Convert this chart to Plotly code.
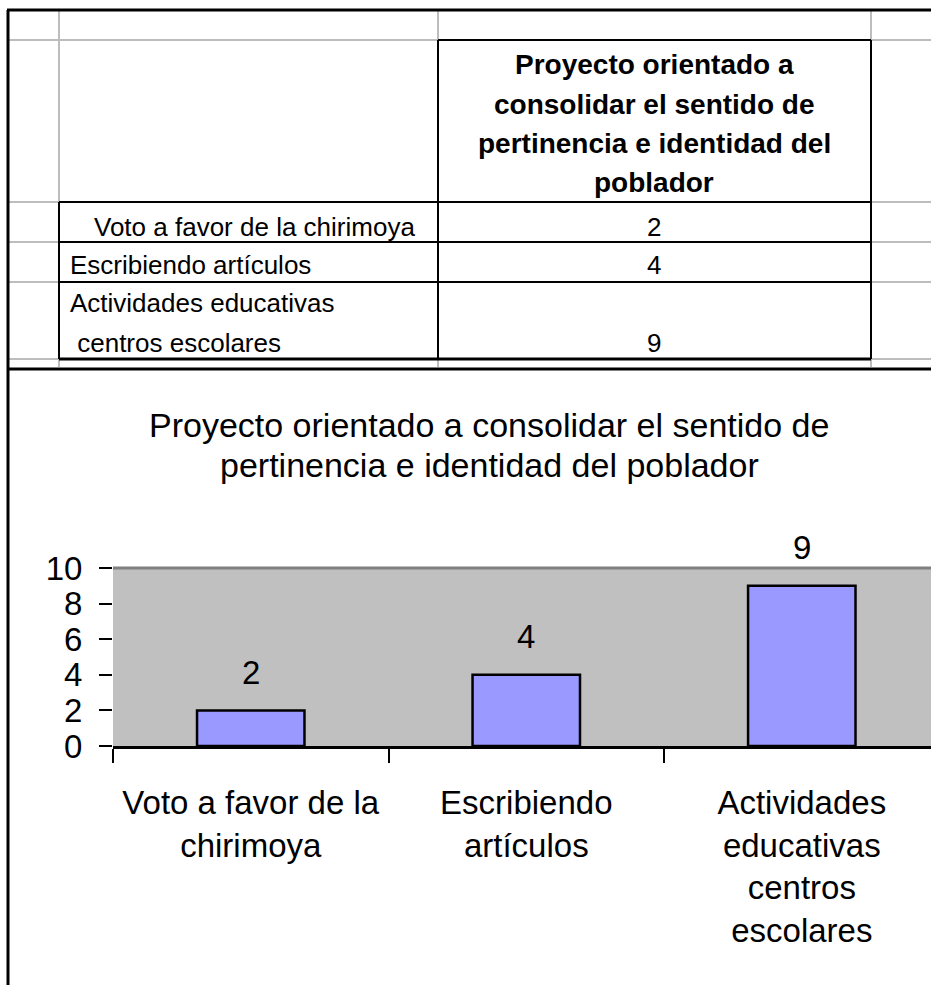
import plotly.graph_objects as go

# data
SERIES_NAME = "Proyecto orientado a consolidar el sentido de pertinencia e identidad del poblador"
CATEGORIES = ["Voto a favor de la chirimoya", "Escribiendo artículos",
              "Actividades educativas centros escolares"]
VALUES = [2, 4, 9]
TICK_TEXT = ["Voto a favor de la<br>chirimoya", "Escribiendo<br>artículos",
             "Actividades<br>educativas<br>centros<br>escolares"]
TABLE_ROWS = [["Voto a favor de la chirimoya"], ["Escribiendo artículos"],
              ["Actividades educativas", " centros escolares"]]
HEADER_LINES = ["Proyecto orientado a", "consolidar el sentido de",
                "pertinencia e identidad del", "poblador"]
TITLE_LINES = ["Proyecto orientado a consolidar el sentido de",
               "pertinencia e identidad del poblador"]

W, H = 931, 985
FONT = "Liberation Sans, Arial, sans-serif"


def px(x):
    return x / W


def py(y):
    return 1 - y / H


def hline(y, x0, x1, color="black", width=2):
    return dict(type="line", xref="paper", yref="paper", x0=px(x0), x1=px(x1),
                y0=py(y), y1=py(y), line=dict(color=color, width=width))


def vline(x, y0, y1, color="black", width=2):
    return dict(type="line", xref="paper", yref="paper", x0=px(x), x1=px(x),
                y0=py(y0), y1=py(y1), line=dict(color=color, width=width))


fig = go.Figure()
fig.add_trace(go.Bar(
    x=CATEGORIES, y=VALUES, name=SERIES_NAME,
    marker=dict(color="#9999FF", line=dict(color="black", width=2.5)),
    hoverinfo="x+y",
))

shapes = []
grid = "#BDBDBD"
# spreadsheet gridlines
for x in [59, 438, 871]:
    shapes.append(vline(x, 10, 367, grid, 2))
for y in [40, 202, 242, 282, 359]:
    shapes.append(hline(y, 8, 931, grid, 2))

# sheet borders
shapes.append(hline(10, 7, 931, width=3))
shapes.append(vline(8, 10, 985, width=3))
shapes.append(hline(369, 7, 931, width=3))

# table borders
shapes.append(hline(40, 438, 871))
shapes.append(vline(438, 40, 359))
shapes.append(vline(871, 40, 359))
shapes.append(vline(59, 202, 359))
for y in [202, 242, 282]:
    shapes.append(hline(y, 59, 871))
shapes.append(hline(359, 59, 871, width=3))

# plot area top border
shapes.append(dict(type="line", xref="x domain", yref="y domain", x0=0, x1=1, y0=1, y1=1,
                   line=dict(color="#808080", width=3)))

annotations = []
for i, line in enumerate(HEADER_LINES):
    annotations.append(dict(x=px(654), y=py(65 + 39.3 * i), xref="paper", yref="paper",
                            text="<b>%s</b>" % line, showarrow=False, xanchor="center",
                            yanchor="middle", font=dict(family=FONT, size=28, color="black")))

row_label_y = [[227], [265], [303, 343]]
row_label_x = [[92], [68], [68, 68]]
for r, lines in enumerate(TABLE_ROWS):
    for j, line in enumerate(lines):
        text = line.replace(" ", "&nbsp;", 1) if line.startswith(" ") else line
        annotations.append(dict(x=px(row_label_x[r][j]), y=py(row_label_y[r][j]),
                                xref="paper", yref="paper", text=text,
                                showarrow=False, xanchor="left", yanchor="middle",
                                font=dict(family=FONT, size=26, color="black")))
    annotations.append(dict(x=px(654), y=py(row_label_y[r][-1]), xref="paper", yref="paper",
                            text=str(VALUES[r]), showarrow=False, xanchor="center",
                            yanchor="middle", font=dict(family=FONT, size=26, color="black")))

for i, line in enumerate(TITLE_LINES):
    annotations.append(dict(x=px(489), y=py(425 + 40 * i), xref="paper", yref="paper",
                            text=line, showarrow=False, xanchor="center", yanchor="middle",
                            font=dict(family=FONT, size=34, color="black")))

# data labels
for c, v in zip(CATEGORIES, VALUES):
    annotations.append(dict(x=c, y=v, xref="x", yref="y", text=str(v), showarrow=False,
                            yshift=38, yanchor="middle",
                            font=dict(family=FONT, size=33, color="black")))

fig.update_layout(
    width=W, height=H,
    margin=dict(l=0, r=0, t=0, b=0, pad=0),
    paper_bgcolor="white",
    plot_bgcolor="#C0C0C0",
    showlegend=False,
    bargap=0.61,
    font=dict(family=FONT, size=33, color="black"),
    shapes=shapes,
    annotations=annotations,
    xaxis=dict(
        domain=[px(113), 1], range=[-0.5, 2.469], type="category",
        tickmode="array", tickvals=CATEGORIES, ticktext=TICK_TEXT,
        tickson="boundaries", ticks="outside", ticklen=14, tickwidth=2, tickcolor="black",
        showline=True, linecolor="black", linewidth=3, showgrid=False, zeroline=False,
        tickfont=dict(family=FONT, size=33, color="black"), ticklabelstandoff=25,
        automargin=False, fixedrange=True,
    ),
    yaxis=dict(
        domain=[py(746), py(568)], range=[0, 10], dtick=2,
        ticks="outside", ticklen=13, tickwidth=2, tickcolor="black",
        showline=False, showgrid=False, zeroline=False,
        tickfont=dict(family=FONT, size=33, color="black"), ticklabelstandoff=10,
        automargin=False, fixedrange=True,
    ),
)

fig.write_html("out.html", config={"displayModeBar": False},
               post_script="document.body.style.margin = '0';")
